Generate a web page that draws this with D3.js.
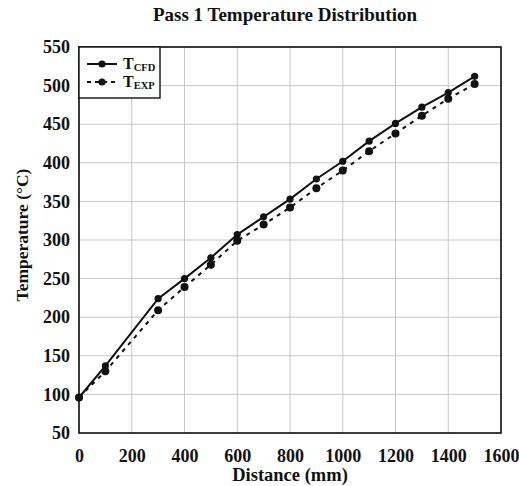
<!DOCTYPE html>
<html>
  <head>
    <meta charset="utf-8">
    <title>Pass 1 Temperature Distribution</title>
    <script src="https://cdn.jsdelivr.net/npm/d3@7"></script>
    <style>
      body { margin: 0; background: #fff; }
      svg { display: block; font-family: "Liberation Serif", "Times New Roman", serif; font-weight: bold; }
      .grid line { stroke: #c8c8c8; stroke-width: 1; }
      .axis text { font-family: "Liberation Serif", "Times New Roman", serif; font-size: 18px; font-weight: bold; fill: #111; }
    </style>
  </head>

  <body>
    <svg id="chart" width="519" height="486"></svg>

    <script>
      // data
      distance = [0, 100, 300, 400, 500, 600, 700, 800, 900, 1000, 1100, 1200, 1300, 1400, 1500];
      tCFD = [96, 137, 224, 250, 277, 307, 330, 353, 379, 402, 428, 451, 472, 491, 512];
      tEXP = [96, 130, 209, 239, 268, 299, 320, 342, 367, 390, 415, 438, 461, 483, 502];
      xTicks = [0, 200, 400, 600, 800, 1000, 1200, 1400, 1600];
      yTicks = [50, 100, 150, 200, 250, 300, 350, 400, 450, 500, 550];

      svg = d3.select("#chart");
      margin = { left: 79, right: 18, top: 47, bottom: 53 };
      width = 519;
      height = 486;

      x = d3.scaleLinear()
        .domain([0, 1600])
        .range([margin.left, width - margin.right]);
      y = d3.scaleLinear()
        .domain([50, 550])
        .range([height - margin.bottom, margin.top]);

      // grid
      grid = svg.append("g").attr("class", "grid");
      grid.selectAll(".v")
        .data(xTicks)
        .enter().append("line")
          .attr("x1", d => x(d)).attr("x2", d => x(d))
          .attr("y1", y(50)).attr("y2", y(550));
      grid.selectAll(".h")
        .data(yTicks)
        .enter().append("line")
          .attr("y1", d => y(d)).attr("y2", d => y(d))
          .attr("x1", x(0)).attr("x2", x(1600));

      // axes (labels only)
      xAxis = svg.append("g")
        .attr("class", "axis")
        .attr("transform", "translate(0," + y(50) + ")")
        .call(d3.axisBottom(x).tickValues(xTicks).tickFormat(d3.format("d")).tickSize(0).tickPadding(16));
      yAxis = svg.append("g")
        .attr("class", "axis")
        .attr("transform", "translate(" + x(0) + ",0)")
        .call(d3.axisLeft(y).tickValues(yTicks).tickFormat(d3.format("d")).tickSize(0).tickPadding(9));
      svg.selectAll(".axis .domain").remove();
      svg.selectAll(".axis").attr("font-family", null).attr("font-size", null);

      // plot frame
      svg.append("rect")
        .attr("x", x(0))
        .attr("y", y(550))
        .attr("width", x(1600) - x(0))
        .attr("height", y(50) - y(550))
        .attr("fill", "none")
        .attr("stroke", "#111")
        .attr("stroke-width", 1.6);

      // series
      cfd = distance.map((d, i) => [d, tCFD[i]]);
      exp = distance.map((d, i) => [d, tEXP[i]]);
      line = d3.line()
        .x(d => x(d[0]))
        .y(d => y(d[1]));

      svg.append("path")
        .datum(exp)
        .attr("d", line)
        .attr("fill", "none")
        .attr("stroke", "#111")
        .attr("stroke-width", 2)
        .attr("stroke-dasharray", "4,5");
      svg.append("path")
        .datum(cfd)
        .attr("d", line)
        .attr("fill", "none")
        .attr("stroke", "#111")
        .attr("stroke-width", 2);

      svg.selectAll(".exp")
        .data(exp)
        .enter().append("circle")
          .attr("cx", d => x(d[0]))
          .attr("cy", d => y(d[1]))
          .attr("r", 4)
          .attr("fill", "#111");
      svg.selectAll(".cfd")
        .data(cfd)
        .enter().append("circle")
          .attr("cx", d => x(d[0]))
          .attr("cy", d => y(d[1]))
          .attr("r", 3.6)
          .attr("fill", "#111");

      // legend
      legend = svg.append("g")
        .attr("transform", "translate(" + x(0) + "," + y(550) + ")");
      legend.append("rect")
        .attr("width", 81)
        .attr("height", 51)
        .attr("fill", "#fff")
        .attr("stroke", "#111")
        .attr("stroke-width", 1.4);
      items = [
        { name: "CFD", dash: null, dy: 17 },
        { name: "EXP", dash: "4,4", dy: 35 }
      ];
      item = legend.selectAll(".item")
        .data(items)
        .enter().append("g")
          .attr("transform", d => "translate(0," + d.dy + ")");
      item.append("line")
        .attr("x1", 8).attr("x2", 38)
        .attr("stroke", "#111")
        .attr("stroke-width", 2)
        .attr("stroke-dasharray", d => d.dash);
      item.append("circle")
        .attr("cx", 23)
        .attr("r", 3.6)
        .attr("fill", "#111");
      label = item.append("text")
        .attr("x", 44)
        .attr("y", 5)
        .attr("fill", "#111")
        .style("font-size", "16px");
      label.append("tspan").text("T");
      label.append("tspan")
        .attr("dy", 2)
        .style("font-size", "10.5px")
        .text(d => d.name);

      // titles
      svg.append("text")
        .attr("x", 285)
        .attr("y", 21)
        .attr("text-anchor", "middle")
        .style("font-size", "19px")
        .attr("fill", "#111")
        .text("Pass 1 Temperature Distribution");
      svg.append("text")
        .attr("x", (x(0) + x(1600)) / 2)
        .attr("y", 481)
        .attr("text-anchor", "middle")
        .style("font-size", "18.5px")
        .attr("fill", "#111")
        .text("Distance (mm)");
      svg.append("text")
        .attr("transform", "translate(28,235) rotate(-90)")
        .attr("text-anchor", "middle")
        .style("font-size", "17.5px")
        .attr("fill", "#111")
        .text("Temperature (°C)");
    </script>
  </body>
</html>
